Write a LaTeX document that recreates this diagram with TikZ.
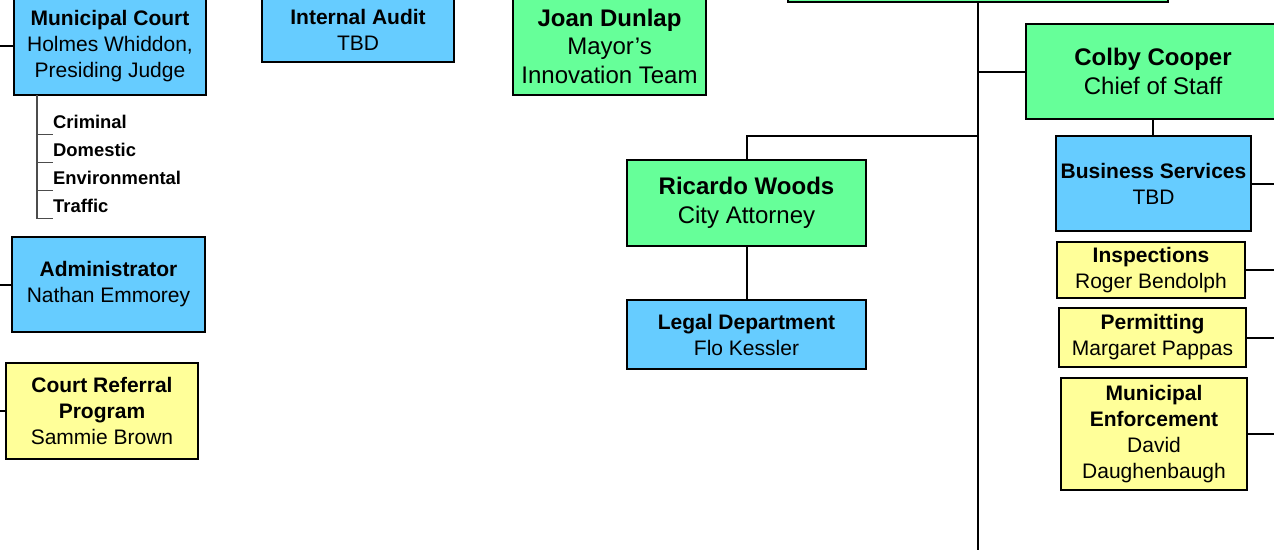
\documentclass[tikz,border=0pt]{standalone}
\usepackage{fontspec}
\setmainfont{Liberation Sans}
\usepackage{tikz}
\definecolor{deptblue}{HTML}{66CCFF}
\definecolor{leadgreen}{HTML}{66FF99}
\definecolor{unityellow}{HTML}{FFFF99}
\tikzset{orgbox/.style={draw=black,line width=1.8pt,align=center,inner sep=0pt,
   font=\fontsize{21}{26}\selectfont},
 bluebox/.style={orgbox,fill=deptblue},
 yellowbox/.style={orgbox,fill=unityellow},
 greenbox/.style={orgbox,fill=leadgreen,font=\fontsize{24}{28.5}\selectfont},
 link/.style={draw=black,line width=2pt},
 subitem/.style={anchor=west,inner sep=0pt,minimum height=24pt,
   font=\bfseries\fontsize{18.4}{22}\selectfont},
 subline/.style={draw=black!70,line width=1.1pt},
 }

\begin{document}
\begin{tikzpicture}[x=1pt,y=-1pt]
        \useasboundingbox (0,0) rectangle (1274,550);
        \coordinate (leftEdge) at (0,0);
        \coordinate (rightEdge) at (1274,0);
        \coordinate (trunkEnd) at (978,550);
        \coordinate (attyJoin) at (978,136);
        \coordinate (courtTap) at (37,95);

        \node[bluebox,minimum width=192pt,minimum height=98pt] (mcourt) at (110,46)
            {\textbf{Municipal Court}\\Holmes Whiddon,\\Presiding Judge};
        \node[bluebox,minimum width=193pt,minimum height=95pt] (admin) at (108.5,284.5)
            {\textbf{Administrator}\\Nathan Emmorey};
        \node[yellowbox,minimum width=192pt,minimum height=96pt] (referral) at (102,411)
            {\textbf{Court Referral}\\\textbf{Program}\\Sammie Brown};
        \node[bluebox,minimum width=192pt,minimum height=64pt] (audit) at (358,30)
            {\textbf{Internal Audit}\\TBD};
        \node[greenbox,minimum width=193pt,minimum height=98pt] (joan) at (609.5,46)
            {\textbf{Joan Dunlap}\\Mayor’s\\Innovation Team};
        \node[greenbox,minimum width=380pt,minimum height=44pt] (mayor) at (978,-20) {};
        \node[greenbox,minimum width=254pt,minimum height=95pt] (colby) at (1153,71.5)
            {\textbf{Colby Cooper}\\Chief of Staff};
        \node[bluebox,minimum width=195pt,minimum height=95pt] (bizsvc) at (1153.5,183.5)
            {\textbf{Business Services}\\TBD};
        \node[yellowbox,minimum width=188pt,minimum height=56pt] (inspect) at (1151,270)
            {\textbf{Inspections}\\Roger Bendolph};
        \node[yellowbox,minimum width=187pt,minimum height=59pt] (permit) at (1152.5,337.5)
            {\textbf{Permitting}\\Margaret Pappas};
        \node[yellowbox,minimum width=186pt,minimum height=112pt] (enforce) at (1154,434)
            {\textbf{Municipal}\\\textbf{Enforcement}\\David\\Daughenbaugh};
        \node[greenbox,minimum width=239pt,minimum height=86pt] (ricardo) at (746.5,203)
            {\textbf{Ricardo Woods}\\City Attorney};
        \node[bluebox,minimum width=239pt,minimum height=69pt] (legal) at (746.5,334.5)
            {\textbf{Legal Department}\\Flo Kessler};

        \node[subitem] (crim) at (53,122) {Criminal};
        \node[subitem] (dom) at (53,150) {Domestic};
        \node[subitem] (env) at (53,178) {Environmental};
        \node[subitem] (traf) at (53,206) {Traffic};
        \draw[subline] (courtTap) |- (traf.south west);
        \foreach \n in {crim,dom,env}
            \draw[subline] (courtTap |- \n.south west) -- (\n.south west);

        \draw[link] (mcourt.west) -- (mcourt.west -| leftEdge);
        \draw[link] (admin.west) -- (admin.west -| leftEdge);
        \draw[link] (referral.west) -- (referral.west -| leftEdge);
        \draw[link] (mayor.south) -- (trunkEnd);
        \draw[link] (colby.west) -- (colby.west -| mayor.south);
        \draw[link] (ricardo.north) |- (attyJoin);
        \draw[link] (ricardo.south) -- (legal.north);
        \draw[link] (colby.south) -- (colby.south |- bizsvc.north);
        \foreach \n in {bizsvc,inspect,permit,enforce}
            \draw[link] (\n.east) -- (\n.east -| rightEdge);
    \end{tikzpicture}
\end{document}
